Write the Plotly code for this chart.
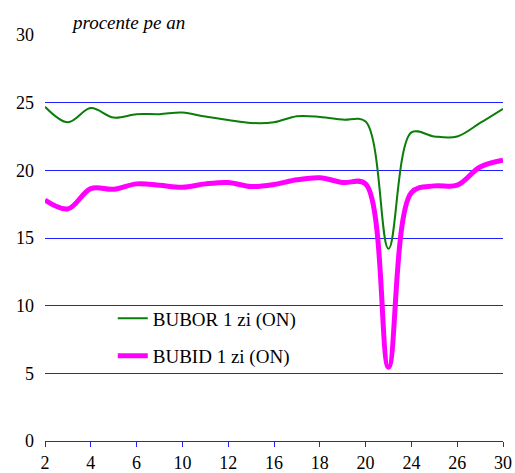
import plotly.graph_objects as go

# Business days of the month (categories)
days = [2, 3, 4, 5, 6, 9, 10, 11, 12, 13, 16, 17, 18, 19, 20, 23, 24, 25, 26, 27, 30]
tick_labels = ["2", "4", "6", "10", "12", "16", "18", "20", "24", "26", "30"]

bubor = [24.7, 23.55, 24.6, 23.9, 24.15, 24.15, 24.27, 23.97, 23.72, 23.5, 23.55,
         24.0, 23.95, 23.75, 23.6, 14.2, 22.8, 22.5, 22.5, 23.5, 24.55]
bubid = [17.8, 17.15, 18.65, 18.6, 19.0, 18.9, 18.75, 19.0, 19.1, 18.8, 18.95,
         19.3, 19.45, 19.1, 19.0, 5.45, 18.35, 18.85, 18.9, 20.25, 20.75]

x_idx = list(range(len(days)))
tick_pos = [days.index(int(t)) for t in tick_labels]

FONT = "Liberation Serif, Times New Roman, Times, serif"

fig = go.Figure()
fig.add_trace(go.Scatter(
    x=x_idx, y=bubor, mode="lines", name="BUBOR 1 zi (ON)",
    line=dict(color="#0a7d0a", width=2, shape="spline", smoothing=1),
    legendgroup="a"))
fig.add_trace(go.Scatter(
    x=x_idx, y=bubid, mode="lines", name="BUBID 1 zi (ON)",
    line=dict(color="#ff00ff", width=5, shape="spline", smoothing=1),
    legendgroup="b"))

# white area behind legend that hides the gridlines
fig.add_shape(type="rect", xref="paper", yref="paper",
              x0=0.048, x1=0.611, y0=0.14, y1=0.357,
              fillcolor="white", line=dict(width=0), layer="between")

fig.add_annotation(text="procente pe an", xref="paper", yref="paper",
                   x=0.052, y=1.032, xanchor="left", yanchor="middle",
                   showarrow=False,
                   font=dict(family=FONT, size=19, color="black", style="italic"))

fig.update_layout(
    width=515, height=473,
    margin=dict(l=45, r=12, t=35, b=32),
    paper_bgcolor="white", plot_bgcolor="white",
    font=dict(family=FONT, size=18, color="black"),
    showlegend=True,
    legend=dict(x=0.148, y=0.349, xanchor="left", yanchor="top",
                bgcolor="rgba(0,0,0,0)", font=dict(family=FONT, size=19),
                tracegroupgap=10, borderwidth=0),
    xaxis=dict(range=[0, len(days) - 1], tickvals=tick_pos, ticktext=tick_labels,
               showgrid=False, zeroline=False, showline=True, linecolor="#2020ff",
               linewidth=1, ticks="outside", ticklen=5, tickcolor="#2020ff",
               automargin=False, tickfont=dict(family=FONT, size=18)),
    yaxis=dict(range=[0, 30], tickvals=[0, 5, 10, 15, 20, 25, 30],
               showgrid=True, gridcolor="#2020ff", gridwidth=1,
               zeroline=False, showline=False, ticks="", automargin=False,
               ticklabelstandoff=10, tickfont=dict(family=FONT, size=18)),
)

fig.write_html("out.html", config={"displayModeBar": False},
               post_script="document.body.style.margin='0';")
